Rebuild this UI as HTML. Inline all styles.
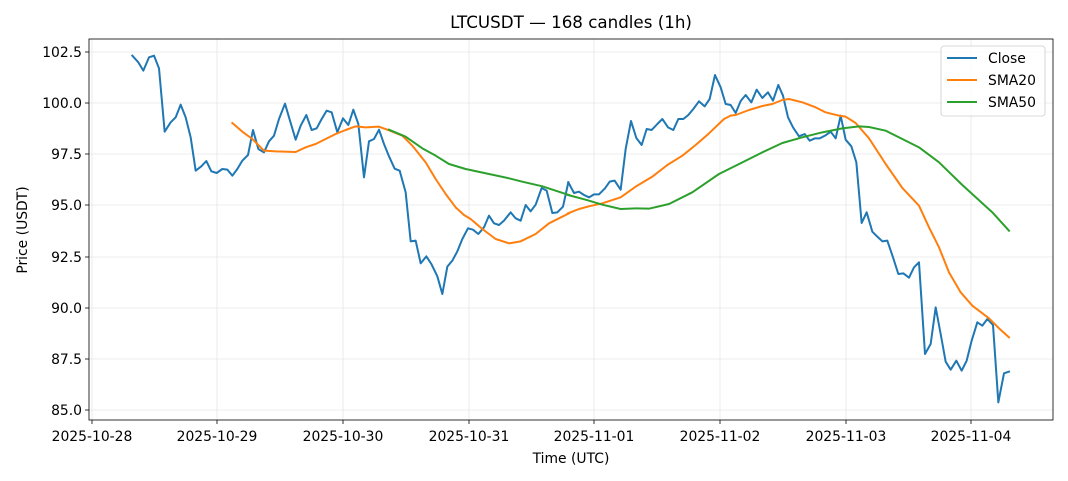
<!DOCTYPE html>
<html><head><meta charset="utf-8"><style>body{margin:0;background:#fff}svg{display:block;font-family:"DejaVu Sans","Liberation Sans",sans-serif}</style></head><body>
<svg width="1068" height="481" viewBox="0 0 1068 481" xmlns="http://www.w3.org/2000/svg">
<rect width="1068" height="481" fill="#fff"/>
<g stroke="#e6e6e6" stroke-width="0.8">
<line x1="92" y1="39" x2="92" y2="420"/><line x1="217" y1="39" x2="217" y2="420"/><line x1="343" y1="39" x2="343" y2="420"/><line x1="469" y1="39" x2="469" y2="420"/><line x1="594" y1="39" x2="594" y2="420"/><line x1="720" y1="39" x2="720" y2="420"/><line x1="846" y1="39" x2="846" y2="420"/><line x1="971" y1="39" x2="971" y2="420"/>
<line x1="89" y1="52" x2="1053" y2="52"/><line x1="89" y1="103" x2="1053" y2="103"/><line x1="89" y1="154" x2="1053" y2="154"/><line x1="89" y1="205" x2="1053" y2="205"/><line x1="89" y1="257" x2="1053" y2="257"/><line x1="89" y1="308" x2="1053" y2="308"/><line x1="89" y1="359" x2="1053" y2="359"/><line x1="89" y1="410" x2="1053" y2="410"/>
</g>
<g fill="none" stroke-width="6" stroke-linejoin="round" stroke-linecap="square" transform="translate(89,39) scale(0.33333)">
<polyline stroke="#1f77b4" points="130,50 148,70 163,95 180,55 195,50 210,88 227,278 245,250 260,235 275,197 290,235 305,295 320,395 337,382 352,366 367,397 383,402 400,390 415,392 430,410 445,390 460,365 477,348 492,273 508,330 525,340 540,307 555,290 570,240 588,194 603,245 620,302 635,260 652,228 668,273 683,268 698,240 713,215 728,220 745,280 762,238 778,258 793,212 808,255 825,415 840,307 855,300 870,272 885,315 900,352 917,389 932,395 950,460 965,607 980,605 995,673 1012,652 1027,675 1045,712 1060,765 1075,683 1090,665 1105,637 1120,600 1137,568 1152,572 1168,585 1185,565 1200,530 1215,553 1230,558 1245,545 1265,520 1280,538 1295,545 1310,498 1325,517 1340,497 1358,447 1373,455 1390,522 1405,520 1422,503 1438,430"/>
<polyline stroke="#ff7f0e" points="430,252 460,278 490,300 525,335 560,337 620,339 650,325 680,315 710,300 740,285 770,273 800,262 830,265 870,263 900,274 940,290 970,320 1010,370 1040,420 1070,465 1100,505 1125,528 1145,540 1180,570 1220,600 1260,613 1295,607 1340,585 1380,553 1410,538 1440,523"/>
<polyline stroke="#2ca02c" points="900,272 950,293 1000,328 1040,350 1080,375 1130,390 1200,405 1260,418 1300,428 1360,442 1400,455 1440,468"/>
</g>
<g fill="none" stroke-width="6" stroke-linejoin="round" stroke-linecap="square" transform="translate(569,39) scale(0.33333)">
<polyline stroke="#1f77b4" points="-2,430 15,462 30,458 45,468 60,475 75,466 90,466 108,448 122,428 137,425 155,452 170,330 186,246 202,297 218,318 233,270 248,273 265,255 280,240 297,265 313,273 328,240 343,240 358,228 373,210 390,187 407,202 422,180 438,108 455,145 470,195 485,198 500,222 515,186 530,168 547,190 563,152 580,177 597,160 612,185 628,138 642,170 657,235 672,265 690,292 707,285 722,305 738,298 752,298 768,290 785,278 800,298 815,230 830,302 847,322 862,370 878,552 893,520 910,578 925,593 940,607 955,605 972,655 988,705 1003,703 1020,716 1035,685 1050,670 1068,945 1085,915 1100,805 1115,885 1130,968 1145,992 1162,965 1178,995 1193,965 1208,905 1225,850 1240,860 1255,840 1272,858 1288,1090 1305,1003 1320,998"/>
<polyline stroke="#ff7f0e" points="-3,523 30,510 60,502 100,493 155,475 200,443 250,413 295,378 340,350 380,318 420,283 465,240 485,230 500,228 540,213 580,201 610,195 640,183 660,180 700,190 740,205 770,220 810,230 830,233 860,252 900,298 950,375 1000,447 1050,500 1080,565 1110,625 1140,700 1175,760 1210,800 1260,838 1290,868 1320,895"/>
<polyline stroke="#2ca02c" points="-3,468 50,482 100,497 155,510 200,508 240,509 300,495 370,460 450,405 520,370 580,340 640,312 700,295 760,280 820,268 870,262 900,264 950,275 1000,300 1050,325 1110,370 1180,438 1270,520 1320,575"/>
</g>
<rect x="89" y="39" width="964" height="381" fill="none" stroke="#000" stroke-width="0.8"/>
<g stroke="#000" stroke-width="0.8">
<line x1="92" y1="420" x2="92" y2="424"/><line x1="217" y1="420" x2="217" y2="424"/><line x1="343" y1="420" x2="343" y2="424"/><line x1="469" y1="420" x2="469" y2="424"/><line x1="594" y1="420" x2="594" y2="424"/><line x1="720" y1="420" x2="720" y2="424"/><line x1="846" y1="420" x2="846" y2="424"/><line x1="971" y1="420" x2="971" y2="424"/>
<line x1="85" y1="52" x2="89" y2="52"/><line x1="85" y1="103" x2="89" y2="103"/><line x1="85" y1="154" x2="89" y2="154"/><line x1="85" y1="205" x2="89" y2="205"/><line x1="85" y1="257" x2="89" y2="257"/><line x1="85" y1="308" x2="89" y2="308"/><line x1="85" y1="359" x2="89" y2="359"/><line x1="85" y1="410" x2="89" y2="410"/>
</g>
<g font-size="13.9" fill="#000" text-anchor="middle">
<text x="92" y="441">2025-10-28</text><text x="217" y="441">2025-10-29</text><text x="343" y="441">2025-10-30</text><text x="469" y="441">2025-10-31</text><text x="594" y="441">2025-11-01</text><text x="720" y="441">2025-11-02</text><text x="846" y="441">2025-11-03</text><text x="971" y="441">2025-11-04</text>
<text x="571" y="463">Time (UTC)</text>
<text x="571" y="28" font-size="16.7">LTCUSDT — 168 candles (1h)</text>
<text transform="translate(27,230) rotate(-90)">Price (USDT)</text>
</g>
<g font-size="13.9" fill="#000" text-anchor="end">
<text x="82" y="57">102.5</text><text x="82" y="108">100.0</text><text x="82" y="159">97.5</text><text x="82" y="210">95.0</text><text x="82" y="262">92.5</text><text x="82" y="313">90.0</text><text x="82" y="364">87.5</text><text x="82" y="415">85.0</text>
</g>
<rect x="941" y="46" width="104" height="70" rx="3" fill="#fff" fill-opacity="0.8" stroke="#ccc" stroke-width="0.8"/>
<g stroke-width="2"><line x1="947" y1="58" x2="977" y2="58" stroke="#1f77b4"/><line x1="947" y1="80" x2="977" y2="80" stroke="#ff7f0e"/><line x1="947" y1="102" x2="977" y2="102" stroke="#2ca02c"/></g>
<g font-size="13.9" fill="#000"><text x="988" y="63">Close</text><text x="988" y="85">SMA20</text><text x="988" y="107">SMA50</text></g>
</svg>
</body></html>
